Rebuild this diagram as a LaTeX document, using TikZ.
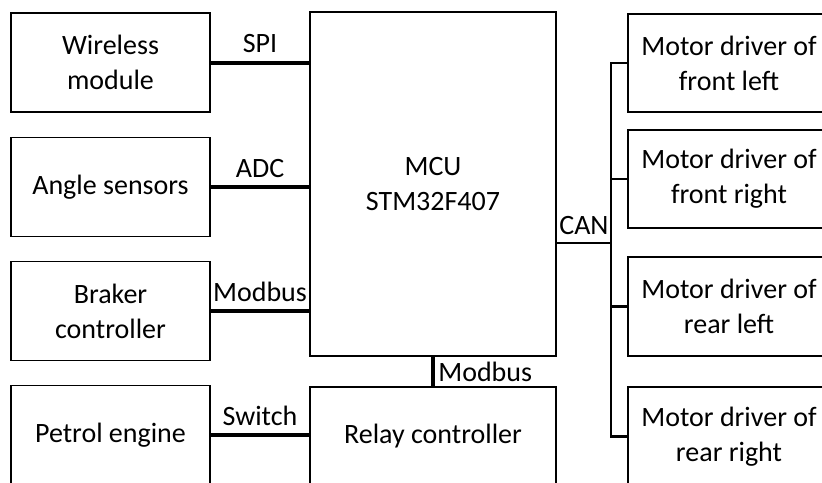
\documentclass[tikz,border=0pt]{standalone}
\usepackage{fontspec}
\setmainfont{Carlito}
\usetikzlibrary{positioning}

\begin{document}
\begin{tikzpicture}[x=1pt,y=-1pt,
  font=\fontsize{28}{35}\selectfont,
  block/.style={draw,line width=1.8pt,minimum width=199pt,minimum height=99pt,
                align=center,inner sep=0pt},
  link/.style={line width=4pt},
  linklabel/.style={above=4pt},
  canbus/.style={line width=2.4pt,line cap=rect}]

  \useasboundingbox (0,0) rectangle (822,482);
  \clip (0,0) rectangle (822,482);

  % ---------- left: peripherals ----------
  \node[block] (wireless) at (110.5,62.5) {Wireless\\module};
  \node[block] (angle)    at (110.5,187)  {Angle sensors};
  \node[block] (braker)   at (110.5,311)  {Braker\\controller};
  \node[block] (petrol)   at (110.5,435)  {Petrol engine};

  % ---------- middle: MCU and relay ----------
  \node[block,minimum width=246pt,minimum height=344pt] (mcu) at (433,184) {MCU\\STM32F407};
  \node[block,minimum width=246pt] (relay) at (433,436.5) {Relay controller};

  % ---------- right: motor drivers ----------
  \node[block,minimum width=202pt,minimum height=98pt] (fl) at (729,63)    {Motor driver of\\front left};
  \node[block,minimum width=202pt,minimum height=98pt] (fr) at (729,179)   {Motor driver of\\front right};
  \node[block,minimum width=202pt,minimum height=99pt] (rl) at (729,306.5) {Motor driver of\\rear left};
  \node[block,minimum width=202pt,minimum height=99pt] (rr) at (729,436.5) {Motor driver of\\rear right};

  % links into the MCU
  \draw[link] (wireless) -- node[linklabel] (spi)    {SPI}    (wireless -| mcu.west);
  \draw[link] (angle)    -- node[linklabel] (adc)    {ADC}    (angle -| mcu.west);
  \draw[link] (braker)   -- node[linklabel] (modbus) {Modbus} (braker -| mcu.west);
  \draw[link] (mcu) -- node[right] (modbusrelay) {Modbus} (relay);
  \draw[link] (petrol) -- node[linklabel] (switch) {Switch} (petrol -| relay.west);

  % CAN bus
  \coordinate (bus) at (611,243);
  \draw[canbus] (mcu.east |- bus) -- node[linklabel] (can) {CAN} (bus);
  \draw[canbus] (fl.west -| bus) -- (rr.west -| bus);
  \foreach \m in {fl,fr,rl,rr}
    \draw[canbus] (\m.west -| bus) -- (\m.west);

\end{tikzpicture}
\end{document}
